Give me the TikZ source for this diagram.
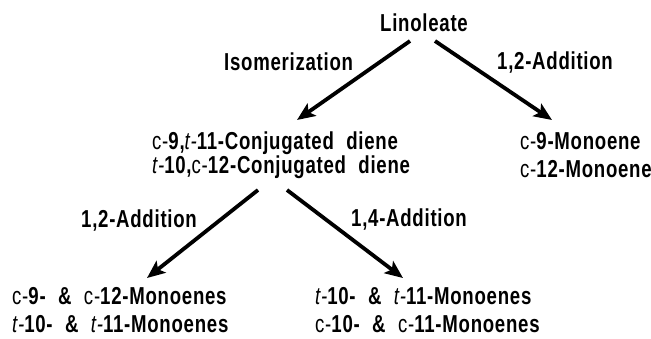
\documentclass[tikz,border=0pt]{standalone}
\usepackage{fontspec}
\setmainfont{Liberation Sans}[FakeStretch=0.76, WordSpace=2.1, LetterSpace=3]
\usetikzlibrary{arrows.meta}
\newcommand{\cisp}{{\mdseries c-}}
\newcommand{\transp}{{\mdseries\itshape t-}}
\begin{document}
\begin{tikzpicture}[x=1pt,y=-1pt,
  txt/.style={inner sep=0pt, anchor=base west, font=\fontsize{24.5}{26}\selectfont\bfseries},
  arr/.style={line width=3.8pt, -{Stealth[length=18pt,width=15pt,inset=4pt]}}]
\useasboundingbox (0,0) rectangle (651,339);
% nodes
\node[txt] (lin) at (380,32) {Linoleate};
\node[txt] (iso) at (224,71) {Isomerization};
\node[txt] (addA) at (497,70) {1,2-Addition};
\node[txt] (dieneA) at (152,150) {\cisp9,\transp11-Conjugated diene};
\node[txt] (dieneB) at (152,174) {\transp10,\cisp12-Conjugated diene};
\node[txt] (rmA) at (520,150) {\cisp9-Monoene};
\node[txt] (rmB) at (520,178) {\cisp12-Monoene};
\node[txt] (addB) at (81,228) {1,2-Addition};
\node[txt] (addC) at (351,227) {1,4-Addition};
\node[txt] (blA) at (12,305) {\cisp9- \& \cisp12-Monoenes};
\node[txt] (blB) at (12,333) {\transp10- \& \transp11-Monoenes};
\node[txt] (brA) at (315,305) {\transp10- \& \transp11-Monoenes};
\node[txt] (brB) at (315,333) {\cisp10- \& \cisp11-Monoenes};
% connectors
\draw[arr] ([xshift=30pt,yshift=-9pt]lin.base west) -- ([xshift=145pt,yshift=30pt]dieneA.base west);
\draw[arr] ([xshift=55pt,yshift=-9pt]lin.base west) -- ([xshift=32pt,yshift=30pt]rmA.base west);
\draw[arr] ([xshift=106pt,yshift=-16pt]dieneB.base west) -- ([xshift=135pt,yshift=27pt]blA.base west);
\draw[arr] ([xshift=135pt,yshift=-16pt]dieneB.base west) -- ([xshift=88pt,yshift=27pt]brA.base west);
\end{tikzpicture}
\end{document}
